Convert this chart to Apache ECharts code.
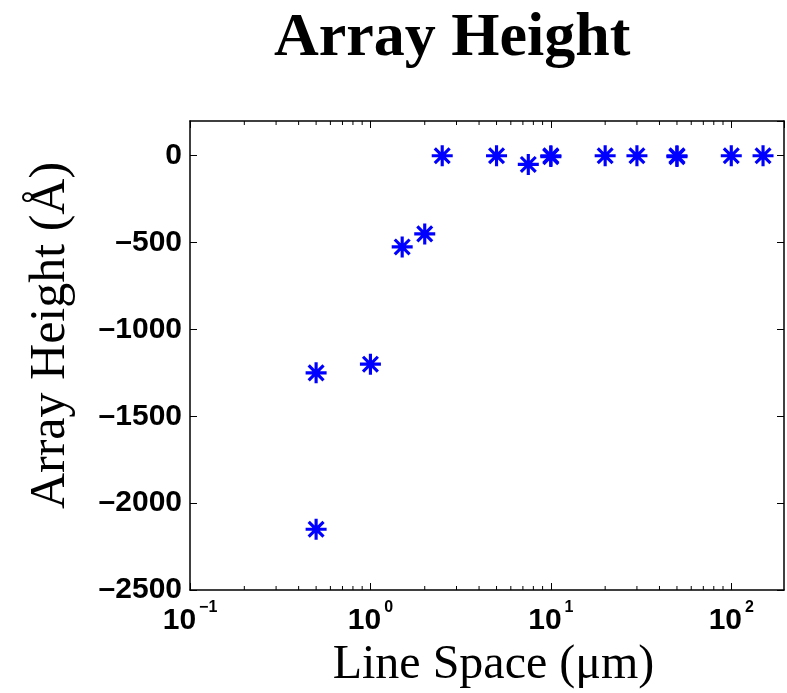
<!DOCTYPE html>
<html><head><meta charset="utf-8">
<script src="https://cdn.jsdelivr.net/npm/echarts@6/dist/echarts.min.js"></script>
<style>html,body{margin:0;padding:0;background:#fff}#c{width:787px;height:693px}</style>
</head><body><div id="c"></div>
<script>
// ---- data ----
var lineSpace = [0.5, 0.5, 1, 1.5, 2, 2.5, 5, 7.5, 10, 10, 20, 30, 50, 50, 100, 150];
var arrayHeight = [-1250, -2150, -1200, -525, -450, 0, 0, -50, 0, -5, 0, 0, 0, -5, 0, 0];
var minorTicks = [0.2,0.3,0.4,0.5,0.6,0.7,0.8,0.9,2,3,4,5,6,7,8,9,20,30,40,50,60,70,80,90];
var xMin = 0.1, xMax = 196, yMin = -2500, yMax = 200, yStep = 500;

var points = lineSpace.map(function(x, i){ return [x, arrayHeight[i]]; });
var star = 'path://M-15,-100 L15,-100 L15,100 L-15,100 Z M-100,-15 L100,-15 L100,15 L-100,15 Z ' +
  'M-81.3,-60.1 L-60.1,-81.3 L81.3,60.1 L60.1,81.3 Z M-60.1,81.3 L-81.3,60.1 L60.1,-81.3 L81.3,-60.1 Z';

function supLabel(v){
  var e = Math.round(Math.log10(v));
  var es = e < 0 ? '\u2212' + (-e) : String(e);
  return '{b|10}{s|' + es + '}';
}
var chart = echarts.init(document.getElementById('c'), null, {renderer:'canvas'});
chart.setOption({
  animation:false,
  backgroundColor:'#fff',
  title:{text:'Array Height', left:269, top:3,
    textStyle:{fontFamily:'Liberation Serif', fontWeight:'bold', fontSize:62, color:'#000'}},
  grid:{left:190, right:3, top:121, bottom:103, containLabel:false, outerBoundsMode:'none'},
  xAxis:[{
    type:'log', logBase:10, min:xMin, max:xMax, position:'bottom',
    name:'Line Space (\u03bcm)', nameLocation:'middle', nameGap:50,
    nameTextStyle:{fontFamily:'Liberation Serif', fontSize:48, color:'#000', padding:[0,0,0,13]},
    axisLine:{onZero:false, lineStyle:{color:'#000', width:1.5}},
    axisTick:{inside:true, length:7, lineStyle:{color:'#000'}},
    splitLine:{show:false}, minorTick:{show:false},
    axisLabel:{showMaxLabel:false, margin:13, formatter:supLabel,
      fontFamily:'Liberation Sans', fontWeight:'bold', fontSize:30, color:'#000',
      rich:{
        b:{fontFamily:'Liberation Sans', fontWeight:'bold', fontSize:30, lineHeight:30, color:'#000', padding:[6,0,0,0]},
        s:{fontFamily:'Liberation Sans', fontWeight:'bold', fontSize:16, lineHeight:16, color:'#000', padding:[0,0,20,3]}
      }}
  },{
    type:'log', logBase:10, min:xMin, max:xMax, position:'top',
    axisLine:{onZero:false, lineStyle:{color:'#000', width:1.5}},
    axisTick:{inside:true, length:7, lineStyle:{color:'#000'}},
    axisLabel:{show:false}, splitLine:{show:false}
  }],
  yAxis:[{
    type:'value', min:yMin, max:yMax, interval:yStep, position:'left',
    name:'Array Height (\u00c5)', nameLocation:'middle', nameGap:114, nameRotate:90,
    nameTextStyle:{fontFamily:'Liberation Serif', fontSize:50, color:'#000', padding:[0,0,0,40]},
    axisLine:{show:true, onZero:false, lineStyle:{color:'#000', width:1.5}},
    axisTick:{show:true, inside:true, length:7, lineStyle:{color:'#000'}},
    splitLine:{show:false},
    axisLabel:{showMaxLabel:false, fontSize:30, margin:8,
      fontFamily:'Liberation Sans', fontWeight:'bold', color:'#000',
      formatter:function(v){ return String(v).replace('-', '\u2013'); }}
  },{
    type:'value', min:yMin, max:yMax, interval:yStep, position:'right',
    axisLine:{show:true, onZero:false, lineStyle:{color:'#000', width:1.5}},
    axisTick:{show:true, inside:true, length:7, lineStyle:{color:'#000'}},
    axisLabel:{show:false}, splitLine:{show:false}
  }],
  series:[{
    type:'scatter', xAxisIndex:0, yAxisIndex:0, data:points,
    symbol:star, symbolSize:21, itemStyle:{color:'#0000ff', opacity:1}, z:5
  },{
    type:'custom', xAxisIndex:0, yAxisIndex:0, silent:true,
    data:minorTicks.map(function(v){ return [v]; }),
    renderItem:function(params, api){
      var x = api.value(0);
      var b = api.coord([x, yMin]);
      var t = api.coord([x, yMax]);
      var st = {stroke:'#000', lineWidth:1};
      return {type:'group', children:[
        {type:'line', shape:{x1:b[0], y1:b[1], x2:b[0], y2:b[1]-4}, style:st},
        {type:'line', shape:{x1:t[0], y1:t[1], x2:t[0], y2:t[1]+4}, style:st}
      ]};
    }
  }]
});
</script></body></html>
